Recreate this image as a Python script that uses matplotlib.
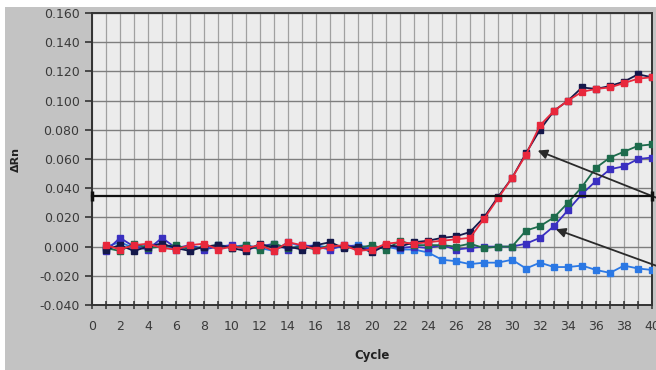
import matplotlib.pyplot as plt
from matplotlib.patches import Rectangle
from matplotlib.ticker import MultipleLocator

plt.rcParams['font.family'] = ['DejaVu Sans']

##### DATA #####
cycles = list(range(1, 41))

red = [0.001, -0.002, 0.001, 0.002, -0.001, -0.002, 0.001, 0.002, -0.002, 0.000,
       -0.001, 0.001, -0.003, 0.003, 0.001, -0.002, 0.000, 0.001, -0.003, -0.002,
       0.002, 0.003, 0.002, 0.003, 0.004, 0.005, 0.006, 0.019, 0.033, 0.047,
       0.063, 0.083, 0.093, 0.100, 0.106, 0.108, 0.109, 0.112, 0.115, 0.116]
navy = [-0.002, 0.001, -0.003, 0.000, 0.002, -0.001, -0.003, 0.000, 0.001, -0.001,
        -0.003, 0.002, -0.001, 0.000, -0.002, 0.001, 0.003, -0.001, 0.000, -0.004,
        0.001, 0.000, 0.003, 0.004, 0.006, 0.007, 0.010, 0.020, 0.034, 0.047,
        0.064, 0.080, 0.093, 0.100, 0.109, 0.108, 0.110, 0.113, 0.118, 0.116]
green = [-0.001, -0.003, 0.002, -0.001, 0.000, 0.001, -0.002, 0.000, 0.001, -0.001,
         0.001, -0.002, 0.002, -0.001, 0.000, -0.002, 0.001, 0.000, -0.001, 0.001,
         -0.002, 0.004, 0.001, 0.001, 0.001, 0.000, 0.002, -0.001, 0.000, 0.000,
         0.011, 0.014, 0.020, 0.030, 0.041, 0.054, 0.061, 0.065, 0.069, 0.070]
blue = [-0.003, 0.006, 0.000, -0.002, 0.006, -0.001, 0.001, -0.002, 0.000, 0.001,
        -0.002, 0.000, 0.002, -0.002, 0.001, 0.000, -0.002, 0.001, 0.000, -0.002,
        0.001, -0.001, 0.000, -0.001, 0.001, -0.002, -0.001, 0.000, 0.000, 0.000,
        0.002, 0.006, 0.014, 0.025, 0.036, 0.045, 0.053, 0.055, 0.060, 0.061]
light_blue = [0.000, 0.003, -0.001, 0.001, 0.002, -0.002, 0.000, -0.001, 0.001, 0.000,
              0.001, -0.001, -0.003, 0.003, 0.000, 0.001, -0.001, 0.000, 0.001, -0.001,
              0.000, -0.002, -0.002, -0.004, -0.009, -0.010, -0.012, -0.011, -0.011, -0.009,
              -0.015, -0.011, -0.014, -0.014, -0.013, -0.016, -0.018, -0.013, -0.015, -0.016]

threshold = 0.0345
y_ticks = [-0.04, -0.02, 0.0, 0.02, 0.04, 0.06, 0.08, 0.10, 0.12, 0.14, 0.16]
x_ticks = list(range(0, 41, 2))

##### PLOT #####
fig = plt.figure(figsize=(6.56, 3.70), dpi=100, facecolor='white')
# grey panel behind everything, leaving a thin white strip top and left
fig.add_artist(Rectangle((5 / 656, 0), 1, 1 - 7 / 370, transform=fig.transFigure,
                         facecolor='#c3c3c3', edgecolor='none', zorder=-5))

ax = fig.add_axes([92 / 656, 1 - 305 / 370, 560 / 656, 292 / 370])
ax.set_facecolor('#ececec')

series = [(light_blue, '#2b78e4'), (blue, '#3a2fc0'), (green, '#1d6b4c'),
          (navy, '#14184a'), (red, '#e8283c')]
for vals, col in series:
    ax.plot(cycles, vals, color=col, lw=1.3, marker='s', ms=4.5,
            mec=col, mfc=col, zorder=3)

# threshold line with end caps
ax.plot([0, 40], [threshold, threshold], color='#111111', lw=1.6, zorder=4,
        marker='|', ms=7, mew=2.5, clip_on=False)

ax.set_xlim(0, 40)
ax.set_ylim(-0.04, 0.16)
ax.set_xticks(x_ticks)
ax.xaxis.set_minor_locator(MultipleLocator(1))
ax.set_yticks(y_ticks)
ax.set_yticklabels(['%.3f' % v for v in y_ticks])

ax.grid(which='major', axis='y', color='#7e7e7e', lw=1.0)
ax.grid(which='both', axis='x', color='#a0a0a0', lw=0.9)
ax.set_axisbelow(True)

for side in ['left', 'bottom', 'top', 'right']:
    ax.spines[side].set_color('#333333')
    ax.spines[side].set_linewidth(1.4)

ax.tick_params(axis='y', direction='out', length=5, width=1.2, color='#333333',
               labelsize=9, labelcolor='#3a3a3a', pad=4)
ax.tick_params(axis='x', which='both', direction='inout', length=6, width=1.1,
               color='#333333', labelsize=9, labelcolor='#3a3a3a', pad=8)

ax.set_xlabel('Cycle', fontsize=8.5, fontweight='bold', color='#222222', labelpad=11)
ax.set_ylabel('ΔRn', fontsize=8, fontweight='bold', color='#222222', labelpad=13)

# pointer arrows
arrow = dict(arrowstyle='-|>', color='#2a2a2a', lw=1.3, mutation_scale=14)
ax.annotate('', xy=(31.65, 0.0665), xytext=(40.7, 0.032), arrowprops=arrow,
            annotation_clip=False)
ax.annotate('', xy=(32.95, 0.0125), xytext=(40.7, -0.0145), arrowprops=arrow,
            annotation_clip=False)

fig.savefig('out.png', dpi=100, facecolor=fig.get_facecolor())
